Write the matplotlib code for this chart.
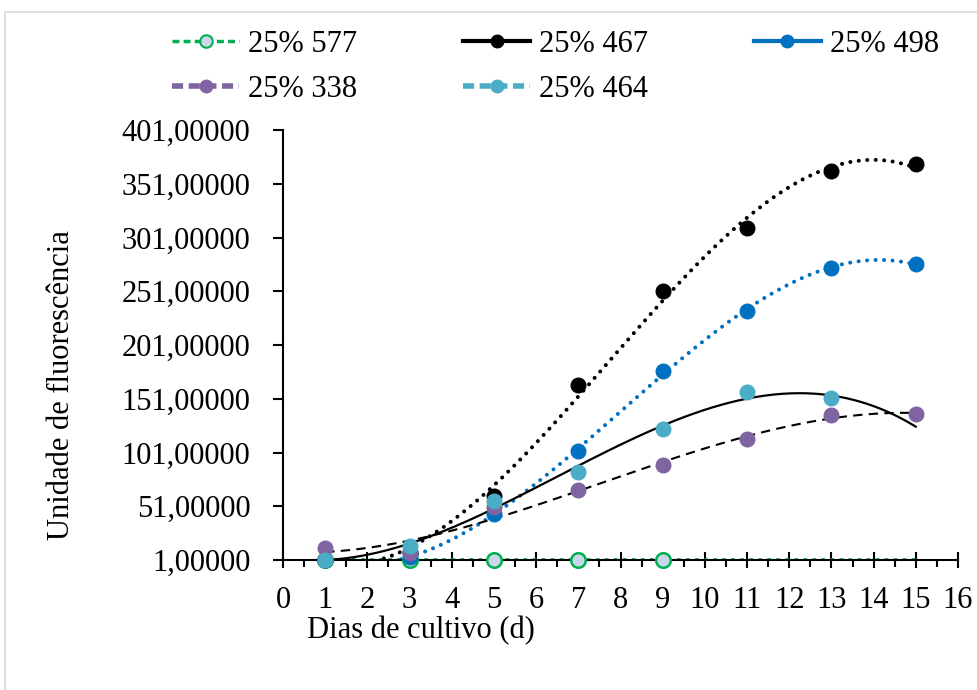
import numpy as np
import matplotlib.pyplot as plt
from matplotlib.lines import Line2D
from matplotlib.patches import Rectangle
from matplotlib.ticker import MultipleLocator, FuncFormatter

plt.rcParams['font.family'] = ['Liberation Serif', 'DejaVu Serif']

# dados
dias = [1, 3, 5, 7, 9, 11, 13, 15]
s577 = [1, 1, 1, 1, 1]                 # dias 1..9
s467 = [1, 8, 61, 164, 251, 310, 363, 369]
s498 = [1, 4, 44, 102, 177, 233, 273, 276]
s338 = [12, 7.5, 50, 66, 89, 113.5, 136, 137]
s464 = [1, 14, 56, 83, 123, 157, 152]  # dias 1..13

series = [
    # nome, y, cor marcador, cor tendência, estilo tendência
    ('25% 577', s577, '#00B050', '#00B050', 'green'),
    ('25% 467', s467, 'black', 'black', 'dot'),
    ('25% 498', s498, '#0070C0', '#0070C0', 'dot'),
    ('25% 338', s338, '#8064A2', 'black', 'dash'),
    ('25% 464', s464, '#4BACC6', 'black', 'solid'),
]

fig = plt.figure(figsize=(9.77, 6.90), dpi=100)
ax = fig.add_axes([283/977, 1-560/690, (958-283)/977, (560-130)/690])

# moldura cinza do gráfico
fig.patches.append(Rectangle((5/977, -0.1), 1.2, 1.1-12/690, transform=fig.transFigure,
                             fill=False, edgecolor='#D9D9D9', lw=1.2, zorder=0))

# linhas de tendência (polinomial)
xs_fit = np.linspace(1, 15, 200)
for name, y, mc, tc, st in series:
    x = np.array(dias[:len(y)])
    y = np.array(y, dtype=float)
    coef = np.polyfit(x, y, 3 if st != 'green' else 1)
    yf = np.polyval(coef, xs_fit)
    if st == 'dot':
        ax.plot(xs_fit, yf, color=tc, lw=2.9, linestyle=(0, (0.01, 2.1)),
                dash_capstyle='round', zorder=2)
    elif st == 'dash':
        ax.plot(xs_fit, yf, color=tc, lw=1.5, linestyle=(0, (4.5, 3)), zorder=2)
    elif st == 'solid':
        ax.plot(xs_fit, yf, color=tc, lw=1.6, zorder=2)
    else:
        ax.plot(xs_fit, yf + 0.8, color=tc, lw=1.3, linestyle=(0, (2, 3)), zorder=2)

for name, y, mc, tc, st in series:
    x = dias[:len(y)]
    if st == 'green':
        ax.plot(x, y, 'o', ms=10.5, mfc='#C9D6EC', mec=mc, mew=1.8, zorder=3, clip_on=False)
    else:
        ax.plot(x, y, 'o', ms=10.5, color=mc, zorder=3, clip_on=False)

ax.set_xlim(0, 16)
ax.set_ylim(1, 401)
ax.xaxis.set_major_locator(MultipleLocator(1))
ax.xaxis.set_minor_locator(MultipleLocator(0.5))
ax.set_yticks(np.arange(1, 402, 50))
ax.yaxis.set_major_formatter(FuncFormatter(lambda v, p: f'{v:.5f}'.replace('.', ',')))
for s in ['top', 'right']:
    ax.spines[s].set_visible(False)
for s in ['left', 'bottom']:
    ax.spines[s].set_linewidth(1.5)
ax.tick_params(axis='x', which='major', direction='inout', length=11, width=1.5, pad=13, labelsize=22)
ax.tick_params(axis='x', which='minor', direction='out', length=5, width=1.5)
ax.tick_params(axis='y', which='major', direction='out', length=7, width=1.5, pad=16.5, labelsize=22)

fig.text(62/977, 1-385/690, 'Unidade de fluorescência', rotation=90, fontsize=22,
         ha='center', va='center')
fig.text(421/977, 1-631/690, 'Dias de cultivo (d)', fontsize=22, ha='center', va='center')

# legenda
h577 = Line2D([], [], color='#00B050', lw=2.5, ls=(0, (2, 1.2)), marker='o', ms=9,
              mfc='#C9D6EC', mec='#00B050', mew=1.5)
h467 = Line2D([], [], color='black', lw=3, marker='o', ms=9)
h498 = Line2D([], [], color='#0070C0', lw=3, marker='o', ms=9)
h338 = Line2D([], [], color='#8064A2', lw=4, ls=(0, (2, 1)), marker='o', ms=9)
h464 = Line2D([], [], color='#4BACC6', lw=4, ls=(0, (2, 1)), marker='o', ms=9)
handles = [h577, h338, h467, h464, h498]
labels = ['25% 577', '25% 338', '25% 467', '25% 464', '25% 498']
fig.legend(handles, labels, ncol=3, loc='upper left', bbox_to_anchor=(172/977, 1-30/690),
           frameon=False, fontsize=22, handlelength=2.2, handletextpad=0.3,
           columnspacing=3.45, labelspacing=0.52, borderpad=0, borderaxespad=0)

fig.savefig('out.png', dpi=100)
